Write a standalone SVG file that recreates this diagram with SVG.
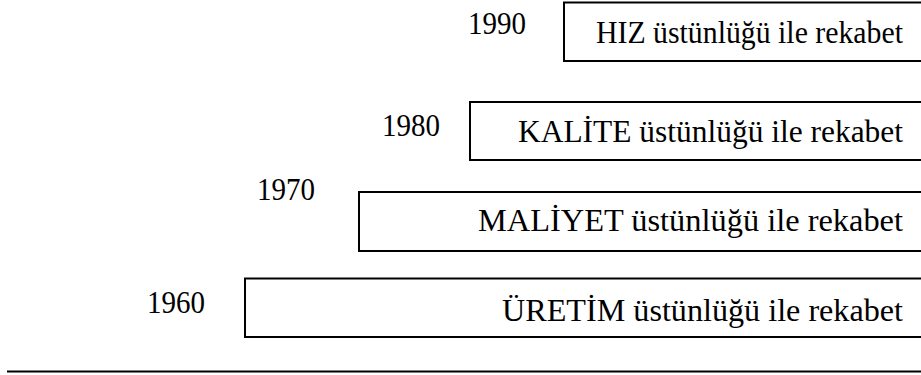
<svg xmlns="http://www.w3.org/2000/svg" width="921" height="375" viewBox="0 0 921 375">
<style>
.box{fill:#fff;stroke:#000;stroke-width:2}
.t{font-family:"Liberation Serif","Times New Roman",serif;font-size:31px;fill:#000}
</style>
<rect width="921" height="375" fill="#fff"/>
<g id="n1990">
<text class="t" x="468" y="34" textLength="58" lengthAdjust="spacingAndGlyphs">1990</text>
<path class="box" d="M921 2.5H564V61H921"/>
<text class="t" x="596" y="43" textLength="307" lengthAdjust="spacingAndGlyphs">HIZ üstünlüğü ile rekabet</text>
</g>
<g id="n1980">
<text class="t" x="382" y="136" textLength="58" lengthAdjust="spacingAndGlyphs">1980</text>
<path class="box" d="M921 102H470V160H921"/>
<text class="t" x="518" y="142" textLength="385" lengthAdjust="spacingAndGlyphs">KALİTE üstünlüğü ile rekabet</text>
</g>
<g id="n1970">
<text class="t" x="257" y="200" textLength="58" lengthAdjust="spacingAndGlyphs">1970</text>
<path class="box" d="M921 192H359V251H921"/>
<text class="t" x="478" y="231" textLength="425" lengthAdjust="spacingAndGlyphs">MALİYET üstünlüğü ile rekabet</text>
</g>
<g id="n1960">
<text class="t" x="147" y="313" textLength="58" lengthAdjust="spacingAndGlyphs">1960</text>
<path class="box" d="M921 278.5H245V337H921"/>
<text class="t" x="502" y="321" textLength="401" lengthAdjust="spacingAndGlyphs">ÜRETİM üstünlüğü ile rekabet</text>
</g>
<g id="connectors">
<line x1="7" y1="371.5" x2="921" y2="371.5" stroke="#000" stroke-width="2"/>
</g>
</svg>
